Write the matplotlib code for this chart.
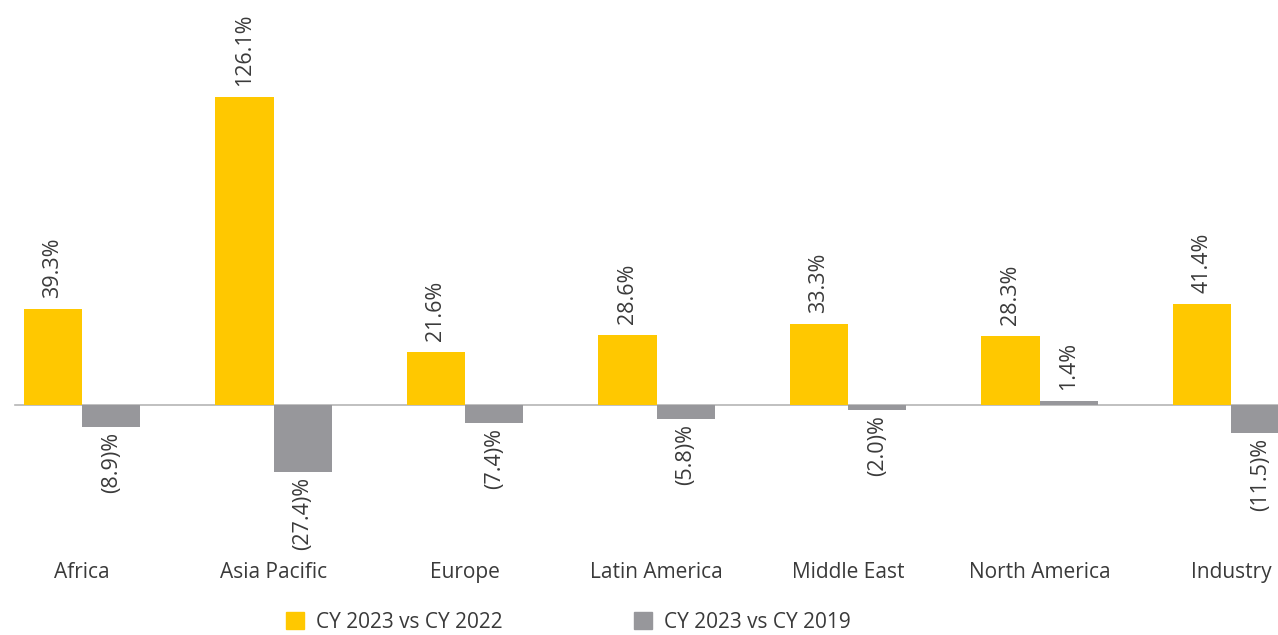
import numpy as np
import matplotlib
matplotlib.use('Agg')
import matplotlib.pyplot as plt
from matplotlib.patches import Patch

plt.rcParams['font.family'] = ['Open Sans', 'DejaVu Sans']

# Data
regions = ['Africa', 'Asia Pacific', 'Europe', 'Latin America',
           'Middle East', 'North America', 'Industry']
vs_2022 = [39.3, 126.1, 21.6, 28.6, 33.3, 28.3, 41.4]
vs_2019 = [-8.9, -27.4, -7.4, -5.8, -2.0, 1.4, -11.5]
series_names = ['CY 2023 vs CY 2022', 'CY 2023 vs CY 2019']

COLOR_YELLOW = '#FFC800'
COLOR_GRAY = '#97979B'
TEXT_COLOR = '#3a3a3a'


def fmt(v):
    return f'{v:.1f}%' if v >= 0 else f'({abs(v):.1f})%'


fig = plt.figure(figsize=(12.78, 6.35), dpi=100)
ax = fig.add_axes([0, 0.15, 1, 0.85])

x = np.arange(len(regions))
w = 0.305
b1 = ax.bar(x - w / 2, vs_2022, width=w, color=COLOR_YELLOW, zorder=2)
b2 = ax.bar(x + w / 2, vs_2019, width=w, color=COLOR_GRAY, zorder=2)

# zero line
ax.plot([-0.35, 6.5], [0, 0], color='#b5b5b5', linewidth=1.2, zorder=1)

px = 2.44  # pixels per percent
ax.set_ylim(-(540 - 405) / px, 405 / px)
ax.set_xlim(-82 / 191.5, (1278 - 82) / 191.5)

for bars, vals in ((b1, vs_2022), (b2, vs_2019)):
    for bar, v in zip(bars, vals):
        cx = bar.get_x() + bar.get_width() / 2
        if v >= 0:
            ax.text(cx, v + 11 / px, fmt(v), rotation=90, ha='center', va='bottom',
                    fontsize=15.5, color=TEXT_COLOR)
        else:
            ax.text(cx, v - 5 / px, fmt(v), rotation=90, ha='center', va='top',
                    fontsize=15.5, color=TEXT_COLOR)

for xi, name in zip(x, regions):
    ax.text(xi, -(573 - 405) / px, name, ha='center', va='center',
            fontsize=15, color=TEXT_COLOR, clip_on=False)

ax.axis('off')

handles = [Patch(color=COLOR_YELLOW), Patch(color=COLOR_GRAY)]
fig.legend(handles, series_names, loc='center', bbox_to_anchor=(0.445, 0.02),
           ncol=2, frameon=False, fontsize=15, handlelength=0.87,
           handleheight=0.87, columnspacing=6.3, handletextpad=0.58,
           labelcolor=TEXT_COLOR)

plt.savefig('out.png', dpi=100, facecolor='white')
